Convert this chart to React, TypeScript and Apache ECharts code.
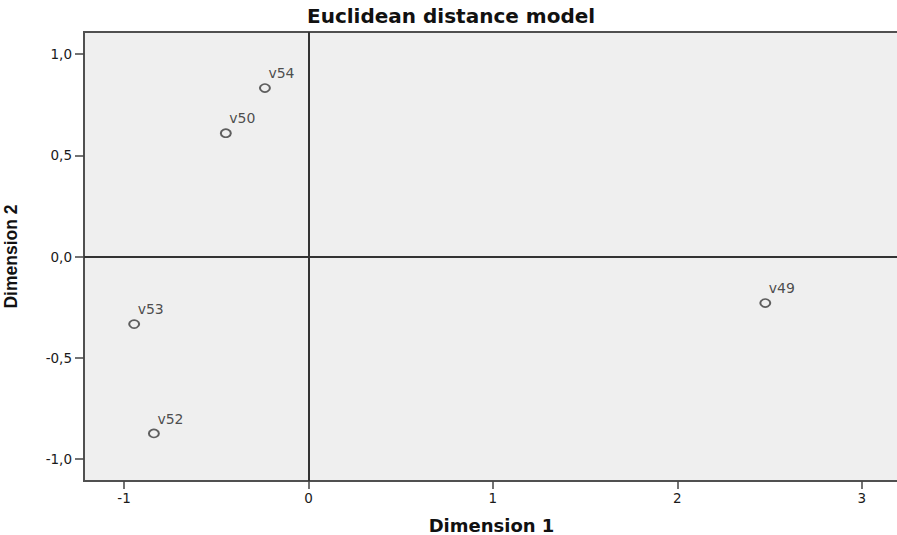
import React, { useEffect, useRef } from "react";
import * as echarts from "echarts";

const pointNames = ["v49", "v50", "v52", "v53", "v54"];
const dim1Values = [2.477, -0.448, -0.838, -0.945, -0.236];
const dim2Values = [-0.23, 0.609, -0.874, -0.334, 0.832];
const xTicks = [-1, 0, 1, 2, 3];
const yTicks = [-1, -0.5, 0, 0.5, 1];

export default function App() {
  const ref = useRef<HTMLDivElement>(null);
  useEffect(() => {
    if (!ref.current) return;
    const chart = echarts.init(ref.current, null, { renderer: "svg" });
    const data = pointNames.map((n, i) => ({ name: n, value: [dim1Values[i], dim2Values[i]] }));
    chart.setOption({
      animation: false,
      title: {
        text: "Euclidean distance model",
        left: 307,
        top: 6,
        padding: 0,
        textStyle: { fontFamily: "DejaVu Sans", fontWeight: "bold", fontSize: 20, color: "#111" },
      },
      grid: {
        left: 84,
        top: 32,
        right: -2,
        bottom: 54,
        outerBoundsMode: "none",
        containLabel: false,
        show: true,
        backgroundColor: "#efefef",
        borderColor: "#505050",
        borderWidth: 2,
      },
      xAxis: {
        type: "value",
        min: -1.217,
        max: 3.202,
        name: "Dimension 1",
        nameLocation: "middle",
        nameGap: 35,
        nameTextStyle: { fontFamily: "DejaVu Sans", fontWeight: "bold", fontSize: 18, color: "#111" },
        axisLine: { show: false, onZero: false },
        splitLine: { show: false },
        axisTick: { show: true, inside: false, length: 8, lineStyle: { color: "#444", width: 1.5 }, customValues: xTicks },
        axisLabel: {
          customValues: xTicks,
          margin: 10,
          fontFamily: "DejaVu Sans",
          fontSize: 13.5,
          color: "#1a1a1a",
          formatter: (v: number) => String(v),
        },
      },
      yAxis: {
        type: "value",
        min: -1.109,
        max: 1.109,
        name: "Dimension 2",
        nameLocation: "middle",
        nameGap: 64,
        nameRotate: 90,
        nameTextStyle: { fontFamily: "Liberation Sans", fontWeight: "bold", fontSize: 17.5, color: "#111" },
        axisLine: { show: false, onZero: false },
        splitLine: { show: false },
        axisTick: { show: true, inside: false, length: 9, lineStyle: { color: "#444", width: 1.5 }, customValues: yTicks },
        axisLabel: {
          customValues: yTicks,
          margin: 12,
          fontFamily: "DejaVu Sans",
          fontSize: 13.5,
          color: "#1a1a1a",
          formatter: (v: number) => v.toFixed(1).replace(".", ","),
        },
      },
      series: [
        {
          type: "scatter",
          data,
          symbol: "circle",
          symbolSize: [10, 8],
          itemStyle: { color: "rgba(0,0,0,0)", borderColor: "#3a3a3a", borderWidth: 1.8 },
          label: {
            show: true,
            formatter: (p: any) => p.name,
            position: [9.5, -17],
            fontFamily: "DejaVu Sans",
            fontSize: 14,
            color: "#222",
          },
          emphasis: { disabled: true },
          markLine: {
            silent: true,
            symbol: ["none", "none"],
            label: { show: false },
            lineStyle: { color: "#333", width: 2, type: "solid" },
            emphasis: { disabled: true },
            data: [{ xAxis: 0 }, { yAxis: 0 }],
          },
        },
      ],
    });
    return () => chart.dispose();
  }, []);
  return <div ref={ref} style={{ position: "absolute", left: 0, top: 0, width: 897, height: 535 }} />;
}
